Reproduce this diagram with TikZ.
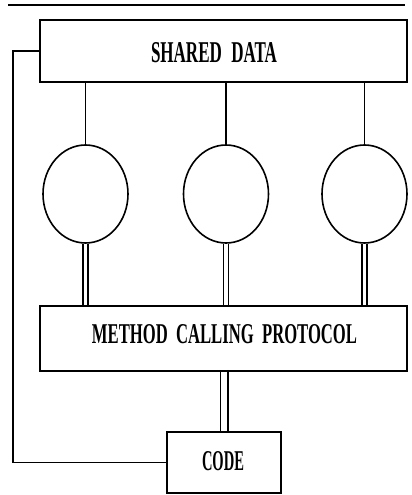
\documentclass[tikz,border=0pt]{standalone}
\usepackage{fontspec}
\setmainfont{Liberation Serif}
\usetikzlibrary{shapes.geometric}
\begin{document}
\begin{tikzpicture}[x=1pt,y=-1pt,
  box/.style={draw,line width=1.8pt,rectangle,inner sep=0pt},
  obj/.style={draw,line width=1.6pt,ellipse,inner sep=0pt,minimum width=85pt,minimum height=98pt},
  link/.style={line width=1.7pt},
  dlink/.style={line width=1.5pt,double,double distance=3.5pt},
  lbl/.style={inner sep=0pt,anchor=center}]
\useasboundingbox (0,0) rectangle (412,495);
\draw[line width=1.6pt] (8,5) -- (405,5);
\node[box,minimum width=367pt,minimum height=62pt] (sd) at (223.5,51) {};
\node[lbl] (sdt) at (214,52.5) {\resizebox{126pt}{20pt}{\bfseries SHARED\hspace{0.55em}DATA}};
\node[obj] (c1) at (85.5,194) {};
\node[obj] (c2) at (226,194) {};
\node[obj] (c3) at (364.5,194) {};
\node[box,minimum width=367pt,minimum height=65pt] (mcp) at (223.5,338.5) {};
\node[lbl] (mcpt) at (224.5,334.5) {\resizebox{265pt}{19pt}{\bfseries METHOD\ \ CALLING\ \ PROTOCOL}};
\node[box,minimum width=114pt,minimum height=61pt] (code) at (224,462.5) {};
\node[lbl] (codet) at (223,461.5) {\resizebox{42pt}{19pt}{\bfseries CODE}};
\foreach \c in {c1,c2,c3}{
  \draw[link] (\c.north) -- (\c.north |- sd.south);
  \draw[dlink] (\c.south) -- (\c.south |- mcp.north);
}
\draw[line width=1.5pt,double,double distance=6pt] (mcp.south -| code.north) -- (code.north);
\draw[link] (sd.west) -- (13,51) -- (13,462.5) -- (code.west);
\end{tikzpicture}
\end{document}
